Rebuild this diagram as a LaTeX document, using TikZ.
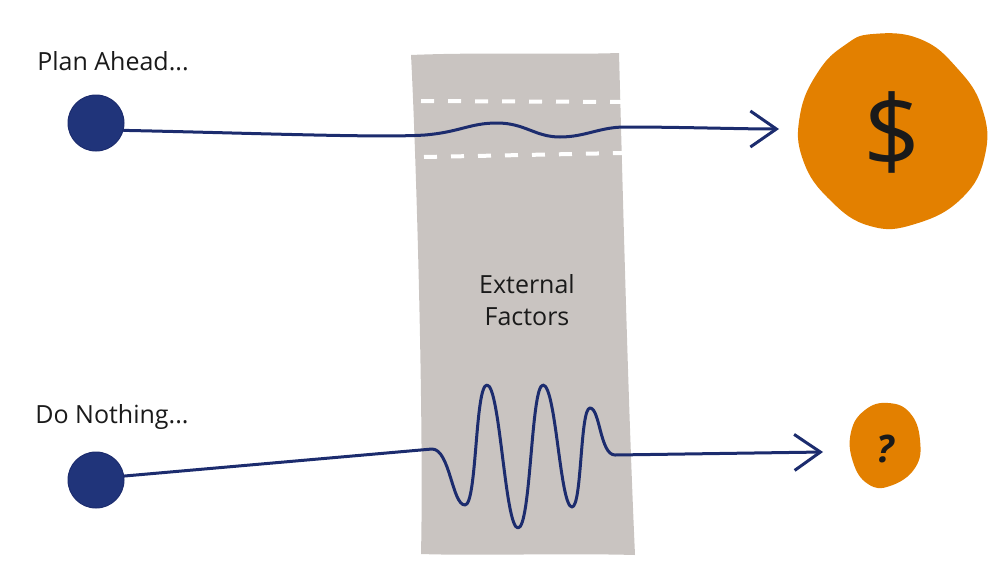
\documentclass[tikz,border=0pt]{standalone}
\usepackage{fontspec}
\setmainfont{Open Sans}
\usetikzlibrary{arrows.meta}

\definecolor{inkNavy}{HTML}{1C2C6E}
\definecolor{dotNavy}{HTML}{20347A}
\definecolor{blobOrange}{HTML}{E38000}
\definecolor{bandGray}{HTML}{C9C4C1}
\definecolor{textInk}{HTML}{1A1A1A}

\begin{document}
\begin{tikzpicture}[x=1pt, y=-1pt, line width=3pt, line cap=round, line join=round,
  dot/.style={circle, fill=dotNavy, draw=inkNavy, line width=1pt, minimum size=56pt, inner sep=0pt},
  trail/.style={draw=inkNavy, line width=3pt, -{Straight Barb[length=26pt, width=36pt, line width=3pt]}},
  caption/.style={anchor=center, inner sep=0pt, text=textInk, font=\fontsize{25}{32}\selectfont}]

  %% ════ gray band (external factors) ════
  \fill[bandGray] (411,55) .. controls (480,52) and (560,55) .. (619,53)
    .. controls (623,200) and (628,400) .. (635,555)
    .. controls (560,553) and (480,556) .. (421,554)
    .. controls (424,420) and (416,150) .. (411,55);

  %% ════ white dashes (the road) ════
  \draw[white, line width=4pt, dash pattern=on 13pt off 14pt, line cap=butt] (421,101) -- (622,102);
  \draw[white, line width=4pt, dash pattern=on 13pt off 14pt, line cap=butt] (424,157) -- (622,153);

  %% ════ orange blobs ════
  \fill[blobOrange] plot[smooth cycle, tension=0.75] coordinates {
    (873,34) (920,39) (957,68) (982,108) (985,155) (962,198) (915,224)
    (870,226) (830,200) (803,160) (800,115) (818,72) (845,45)};
  \fill[blobOrange] plot[smooth cycle, tension=0.75] coordinates {
    (888,403) (910,413) (920,440) (915,468) (890,486) (868,484) (853,462) (851,432) (865,410)};

  %% ════ dots, texts ════
  \node[dot] (planDot) at (96,123) {};
  \node[dot] (idleDot) at (96,480) {};
  \node[caption] (planLabel) at (113,61) {Plan Ahead...};
  \node[caption] (idleLabel) at (112,417) {Do Nothing...};
  \node[caption, align=center] (factors) at (527,300) {External\\Factors};
  \node[anchor=center, inner sep=0pt, text=textInk, font=\fontsize{100}{110}\selectfont] (payoff) at (892,132) {\$};
  \node[anchor=center, inner sep=0pt, text=textInk, font=\fontsize{38}{42}\selectfont\bfseries\itshape] (unknown) at (885,449) {?};

  \coordinate (planTip) at (779,129);
  \coordinate (idleTip) at (823,452);

  %% ════ top path: small wobble in the band ════
  \draw[trail] (planDot.-15) .. controls (250,133) and (380,138) .. (425,135)
    .. controls (460,132) and (470,123) .. (497,123)
    .. controls (525,123) and (535,137) .. (560,137)
    .. controls (585,137) and (600,127) .. (625,127)
    .. controls (680,127) and (740,129) .. (planTip);

  %% ════ bottom path: big swings in the band ════
  \draw[trail] (idleDot.8) -- (432,449)
    .. controls (450,449) and (452,505) .. (465,505)
    .. controls (477,505) and (475,385) .. (487,385)
    .. controls (500,385) and (505,528) .. (518,528)
    .. controls (531,528) and (531,385) .. (543,385)
    .. controls (556,385) and (560,507) .. (572,507)
    .. controls (582,507) and (580,408) .. (590,408)
    .. controls (600,408) and (600,455) .. (615,455)
    -- (idleTip);

  \pgfresetboundingbox
  \path[use as bounding box] (0,0) rectangle (1000,581);
\end{tikzpicture}
\end{document}
